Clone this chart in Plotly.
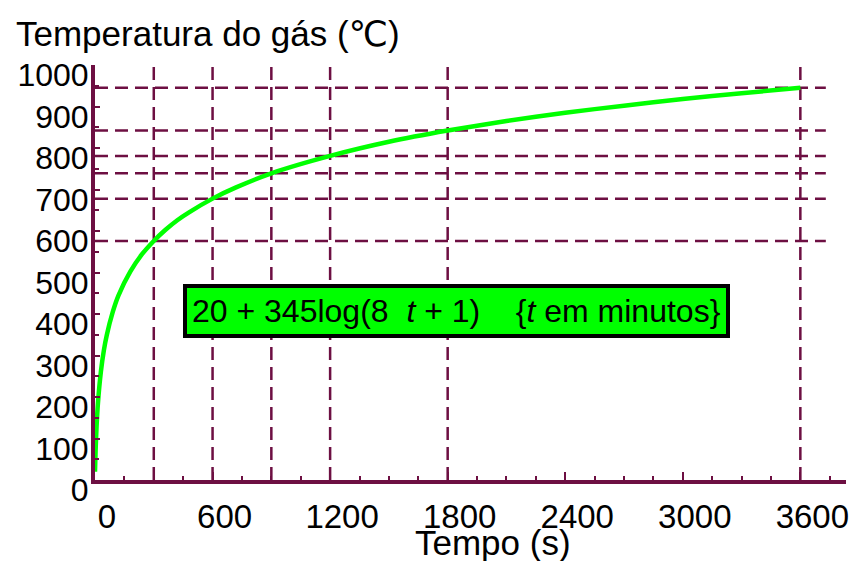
import plotly.graph_objects as go

# ---- data ----
time_s = [0, 3, 8, 15, 30, 45, 60, 90, 120, 180, 240, 300, 360, 420, 480, 600,
          720, 900, 1200, 1500, 1800, 2100, 2400, 2700, 3000, 3300, 3600]
temp_c = [20, 70, 129, 185, 261, 312, 349, 404, 445, 502, 544, 576, 603, 626, 645, 678,
          705, 739, 781, 815, 842, 865, 885, 902, 918, 932, 945]

mark_times = [300, 600, 900, 1200, 1800, 3600]
mark_temps = [576, 678, 739, 781, 842, 945]

x_ticks = [0, 600, 1200, 1800, 2400, 3000, 3600]
y_ticks = [0, 100, 200, 300, 400, 500, 600, 700, 800, 900, 1000]

x_title = "Tempo (s)"
y_title = "Temperatura do gás (℃)"
formula_text = "20 + 345log(8\u00a0\u00a0<i>t</i> + 1)\u00a0\u00a0\u00a0\u00a0{<i>t</i> em minutos}"

# ---- styling ----
MAROON = "#6d0f42"
GREEN = "#00ff00"
FONT = "Liberation Sans, Arial, DejaVu Sans, sans-serif"
X_MAX = 3833
H_END = 3730

fig = go.Figure()

for t in mark_times:
    fig.add_trace(go.Scatter(x=[t, t], y=[0, 1000], mode="lines",
                             line=dict(color=MAROON, width=2.5, dash="13px,7px"),
                             hoverinfo="skip", showlegend=False))
for v in mark_temps:
    fig.add_trace(go.Scatter(x=[0, H_END], y=[v, v], mode="lines",
                             line=dict(color=MAROON, width=2.5, dash="13px,7px"),
                             hoverinfo="skip", showlegend=False))

fig.add_trace(go.Scatter(x=time_s, y=temp_c, mode="lines",
                         line=dict(color=GREEN, width=4.5, shape="spline", smoothing=0.6),
                         showlegend=False))

fig.update_layout(
    width=849, height=561,
    margin=dict(l=95, r=0, t=65, b=81),
    paper_bgcolor="white", plot_bgcolor="white",
    font=dict(family=FONT, color="black"),
    xaxis=dict(range=[0, X_MAX], tickvals=x_ticks, ticktext=[str(v) for v in x_ticks],
               showgrid=False, zeroline=False,
               showline=True, linecolor=MAROON, linewidth=4,
               ticks="inside", ticklen=8, tickwidth=2, tickcolor=MAROON,
               minor=dict(dtick=150, ticks="inside", ticklen=4, tickwidth=1.5,
                          tickcolor=MAROON, showgrid=False),
               tickfont=dict(size=33, family=FONT, color="black"),
               ticklabelshift=12, ticklabelstandoff=4, ticklabeloverflow="allow"),
    yaxis=dict(range=[0, 1000], tickvals=y_ticks, ticktext=[str(v) for v in y_ticks],
               showgrid=False, zeroline=False,
               showline=True, linecolor=MAROON, linewidth=4,
               ticks="inside", ticklen=5, tickwidth=1.5, tickcolor=MAROON,
               minor=dict(dtick=50, ticks="inside", ticklen=4, tickwidth=1.5,
                          tickcolor=MAROON, showgrid=False),
               tickfont=dict(size=32, family=FONT, color="black"),
               ticklabelshift=10, ticklabelstandoff=-4, ticklabeloverflow="allow"),
    annotations=[
        dict(text=y_title, xref="paper", yref="paper", x=(14 - 95) / 754, y=1 + 31 / 415,
             xanchor="left", yanchor="middle", showarrow=False,
             font=dict(size=35, family=FONT, color="black")),
        dict(text=x_title, xref="paper", yref="paper", x=(495 - 95) / 754, y=-(542 - 480) / 415,
             xanchor="center", yanchor="middle", showarrow=False,
             font=dict(size=35, family=FONT, color="black")),
        dict(text=formula_text, xref="x", yref="y", x=1843, y=407,
             xanchor="center", yanchor="middle", showarrow=False,
             bgcolor=GREEN, bordercolor="black", borderwidth=4, borderpad=5,
             font=dict(size=32, family=FONT, color="black")),
    ],
)

fig.write_html("out.html")
